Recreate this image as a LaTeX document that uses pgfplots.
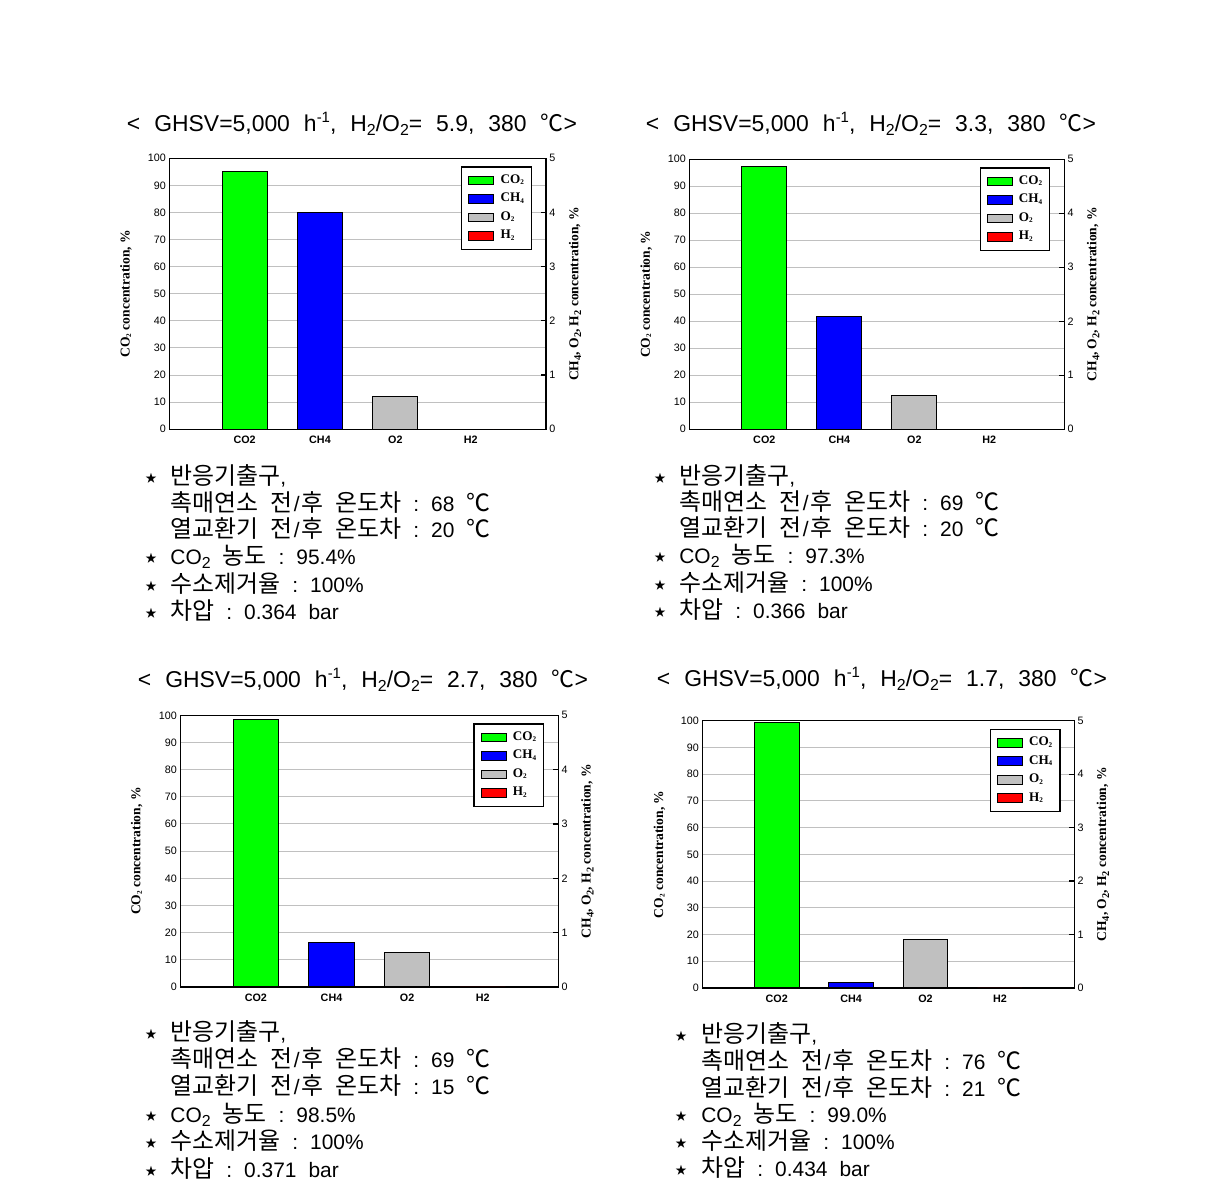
\documentclass[border=0pt]{standalone}
\usepackage{fontspec}
\usepackage{pgfplots}
\pgfplotsset{compat=1.18}
\setmainfont{Liberation Sans}
\newfontfamily\kr{Noto Sans CJK KR}
\newfontfamily\tms{Liberation Serif}
\newfontfamily\dv{DejaVu Sans}

\definecolor{cg}{RGB}{0,255,0}
\definecolor{cb}{RGB}{0,0,255}
\definecolor{cgr}{RGB}{192,192,192}
\definecolor{cr}{RGB}{255,0,0}
\definecolor{gridc}{RGB}{192,192,192}

\newcommand{\lsub}[1]{\raisebox{-0.7bp}{\fontsize{3.6}{4}\selectfont #1}}
\newcommand{\rsub}[1]{\raisebox{-1.4bp}{\fontsize{5.2}{5}\selectfont #1}}
\newcommand{\tsub}[1]{\raisebox{-2bp}{\fontsize{8}{8}\selectfont #1}}
\newcommand{\tsup}[1]{\raisebox{4.5bp}{\fontsize{7.5}{8}\selectfont #1}}
\newcommand{\K}[1]{{\kr\fontsize{12}{14}\selectfont #1}}
\newcommand{\kS}{\hspace{6bp}}
\newcommand{\tS}{\hspace{7bp}}
\newcommand{\JH}{\K{전}\hspace{0.8bp}/\hspace{0.8bp}\K{후}}
\newcommand{\ttl}[1]{<\tS GHSV=5,000\tS h\tsup{-1},\tS H\tsub{2}/O\tsub{2}=\tS #1,\tS 380\tS{\kr ℃}>}
\newcommand{\st}{{\dv\fontsize{14}{14}\selectfont ⋆}}

\pgfplotsset{
  mainax/.style={scale only axis, anchor=south west,
    xmin=0, xmax=5, ymin=0, ymax=100,
    xtick={1,2,3,4}, xticklabels={CO2,CH4,O2,H2},
    ytick={0,10,...,100},
    ymajorgrids, grid style={gridc, line width=0.5bp},
    major tick length=0pt, ytick pos=left, xtick pos=bottom,
    axis line style={line width=0.65bp},
    /pgf/number format/assume math mode=true,
    yticklabel style={font=\fontsize{5.4}{6}\selectfont, inner sep=1.5bp},
    xticklabel style={font=\bfseries\fontsize{5.4}{6}\selectfont},
    ylabel={CO\lsub{2} concentration, \%},
    ylabel style={at={(axis description cs:-0.115,0.5)}, anchor=center,
      font=\tms\bfseries\fontsize{6.8}{8}\selectfont},
    legend style={at={(0.963,0.97)}, anchor=north east, draw=black,
      line width=0.6bp, fill=white,
      font=\tms\bfseries\fontsize{6.6}{7}\selectfont,
      inner xsep=3.2bp, inner ysep=3.2bp, row sep=2.2bp,
      nodes={inner sep=0.6bp}},
    legend cell align=left,
    legend image code/.code={\draw[#1, draw=black, line width=0.5bp] (0bp,-2.2bp) rectangle (12.5bp,2.2bp); \path (15bp,0bp);},
  },
  secax/.style={scale only axis, anchor=south west,
    xmin=0, xmax=5, ymin=0, ymax=5,
    axis x line=none, axis y line*=right,
    ytick={0,1,...,5}, tick align=inside, major tick length=2.5bp,
    axis line style={line width=0.65bp},
    tick style={line width=0.6bp, black},
    /pgf/number format/assume math mode=true,
    yticklabel style={font=\fontsize{5.4}{6}\selectfont, inner sep=1.5bp},
    ylabel={CH\rsub{4}, O\rsub{2}, H\rsub{2} concentration, \%},
    ylabel style={anchor=center, font=\tms\bfseries\fontsize{6.8}{8}\selectfont},
  },
  barp/.style={ybar, bar width=0.6, bar shift=0pt, draw=black, line width=0.5bp},
}

\begin{document}
\begin{tikzpicture}
\path[use as bounding box] (0,0) rectangle (608.5bp,594.5bp);

% ---------------- Panel 1 ----------------
\begin{axis}[mainax, at={(84.65bp,379.85bp)}, width=188.35bp, height=135.5bp]
\addlegendimage{fill=cg}\addlegendentry{CO\lsub{2}}
\addlegendimage{fill=cb}\addlegendentry{CH\lsub{4}}
\addlegendimage{fill=cgr}\addlegendentry{O\lsub{2}}
\addlegendimage{fill=cr}\addlegendentry{H\lsub{2}}
\addplot[barp, fill=cg, forget plot] coordinates {(1,95.2)};
\end{axis}
\begin{axis}[secax, at={(84.65bp,379.85bp)}, width=188.35bp, height=135.5bp,
  ylabel style={at={(axis description cs:1.077,0.5)}}]
\addplot[barp, fill=cb] coordinates {(2,4.00)};
\addplot[barp, fill=cgr] coordinates {(3,0.60)};
\addplot[barp, fill=cr] coordinates {(4,0)};
\end{axis}

% ---------------- Panel 2 ----------------
\begin{axis}[mainax, at={(344.65bp,379.85bp)}, width=187.5bp, height=135bp]
\addlegendimage{fill=cg}\addlegendentry{CO\lsub{2}}
\addlegendimage{fill=cb}\addlegendentry{CH\lsub{4}}
\addlegendimage{fill=cgr}\addlegendentry{O\lsub{2}}
\addlegendimage{fill=cr}\addlegendentry{H\lsub{2}}
\addplot[barp, fill=cg, forget plot] coordinates {(1,97.4)};
\end{axis}
\begin{axis}[secax, at={(344.65bp,379.85bp)}, width=187.5bp, height=135bp,
  ylabel style={at={(axis description cs:1.077,0.5)}}]
\addplot[barp, fill=cb] coordinates {(2,2.09)};
\addplot[barp, fill=cgr] coordinates {(3,0.63)};
\addplot[barp, fill=cr] coordinates {(4,0)};
\end{axis}

% ---------------- Panel 3 ----------------
\begin{axis}[mainax, at={(90.15bp,101bp)}, width=189bp, height=135.85bp]
\addlegendimage{fill=cg}\addlegendentry{CO\lsub{2}}
\addlegendimage{fill=cb}\addlegendentry{CH\lsub{4}}
\addlegendimage{fill=cgr}\addlegendentry{O\lsub{2}}
\addlegendimage{fill=cr}\addlegendentry{H\lsub{2}}
\addplot[barp, fill=cg, forget plot] coordinates {(1,98.5)};
\end{axis}
\begin{axis}[secax, at={(90.15bp,101bp)}, width=189bp, height=135.85bp,
  ylabel style={at={(axis description cs:1.077,0.5)}}]
\addplot[barp, fill=cb] coordinates {(2,0.82)};
\addplot[barp, fill=cgr] coordinates {(3,0.64)};
\addplot[barp, fill=cr] coordinates {(4,0)};
\end{axis}

% ---------------- Panel 4 ----------------
\begin{axis}[mainax, at={(351.15bp,100.5bp)}, width=186bp, height=133.65bp]
\addlegendimage{fill=cg}\addlegendentry{CO\lsub{2}}
\addlegendimage{fill=cb}\addlegendentry{CH\lsub{4}}
\addlegendimage{fill=cgr}\addlegendentry{O\lsub{2}}
\addlegendimage{fill=cr}\addlegendentry{H\lsub{2}}
\addplot[barp, fill=cg, forget plot] coordinates {(1,99.2)};
\end{axis}
\begin{axis}[secax, at={(351.15bp,100.5bp)}, width=186bp, height=133.65bp,
  ylabel style={at={(axis description cs:1.077,0.5)}}]
\addplot[barp, fill=cb] coordinates {(2,0.106)};
\addplot[barp, fill=cgr] coordinates {(3,0.90)};
\addplot[barp, fill=cr] coordinates {(4,0)};
\end{axis}

% ---------------- Texts (pixel coordinates, y downward) ----------------
\begin{scope}[x=0.5bp, y=-0.5bp, shift={(0bp,594.5bp)},
  every node/.style={inner sep=0pt, font=\fontsize{10.5}{12}\selectfont}]
  % titles
  \node[anchor=base, font=\fontsize{11.5}{13}\selectfont] at (352,131.7) {\ttl{5.9}};
  \node[anchor=base, font=\fontsize{11.5}{13}\selectfont] at (871,131.7) {\ttl{3.3}};
  \node[anchor=base, font=\fontsize{11.5}{13}\selectfont] at (363,688) {\ttl{2.7}};
  \node[anchor=base, font=\fontsize{11.5}{13}\selectfont] at (882,687) {\ttl{1.7}};

  % panel 1 block
  \node[anchor=base] at (151,488) {\st};
  \node[anchor=base west] at (170,485) {\K{반응기출구},};
  \node[anchor=base west] at (170,512) {\K{촉매연소}\kS\JH\kS\K{온도차}\kS:\kS 68\kS\K{℃}};
  \node[anchor=base west] at (170,538) {\K{열교환기}\kS\JH\kS\K{온도차}\kS:\kS 20\kS\K{℃}};
  \node[anchor=base] at (151,568) {\st};
  \node[anchor=base west] at (170,565) {CO\tsub{2}\kS\K{농도}\kS:\kS 95.4\%};
  \node[anchor=base] at (151,596) {\st};
  \node[anchor=base west] at (170,593) {\K{수소제거율}\kS:\kS 100\%};
  \node[anchor=base] at (151,623) {\st};
  \node[anchor=base west] at (170,620) {\K{차압}\kS:\kS 0.364\kS bar};

  % panel 2 block
  \node[anchor=base] at (660,488) {\st};
  \node[anchor=base west] at (679,485) {\K{반응기출구},};
  \node[anchor=base west] at (679,511) {\K{촉매연소}\kS\JH\kS\K{온도차}\kS:\kS 69\kS\K{℃}};
  \node[anchor=base west] at (679,537) {\K{열교환기}\kS\JH\kS\K{온도차}\kS:\kS 20\kS\K{℃}};
  \node[anchor=base] at (660,567) {\st};
  \node[anchor=base west] at (679,564) {CO\tsub{2}\kS\K{농도}\kS:\kS 97.3\%};
  \node[anchor=base] at (660,595) {\st};
  \node[anchor=base west] at (679,592) {\K{수소제거율}\kS:\kS 100\%};
  \node[anchor=base] at (660,622) {\st};
  \node[anchor=base west] at (679,619) {\K{차압}\kS:\kS 0.366\kS bar};

  % panel 3 block
  \node[anchor=base] at (151,1044) {\st};
  \node[anchor=base west] at (170,1041) {\K{반응기출구},};
  \node[anchor=base west] at (170,1068) {\K{촉매연소}\kS\JH\kS\K{온도차}\kS:\kS 69\kS\K{℃}};
  \node[anchor=base west] at (170,1095) {\K{열교환기}\kS\JH\kS\K{온도차}\kS:\kS 15\kS\K{℃}};
  \node[anchor=base] at (151,1126) {\st};
  \node[anchor=base west] at (170,1123) {CO\tsub{2}\kS\K{농도}\kS:\kS 98.5\%};
  \node[anchor=base] at (151,1153) {\st};
  \node[anchor=base west] at (170,1150) {\K{수소제거율}\kS:\kS 100\%};
  \node[anchor=base] at (151,1181) {\st};
  \node[anchor=base west] at (170,1178) {\K{차압}\kS:\kS 0.371\kS bar};

  % panel 4 block
  \node[anchor=base] at (681,1046) {\st};
  \node[anchor=base west] at (701,1043) {\K{반응기출구},};
  \node[anchor=base west] at (701,1070) {\K{촉매연소}\kS\JH\kS\K{온도차}\kS:\kS 76\kS\K{℃}};
  \node[anchor=base west] at (701,1097) {\K{열교환기}\kS\JH\kS\K{온도차}\kS:\kS 21\kS\K{℃}};
  \node[anchor=base] at (681,1126) {\st};
  \node[anchor=base west] at (701,1123) {CO\tsub{2}\kS\K{농도}\kS:\kS 99.0\%};
  \node[anchor=base] at (681,1153) {\st};
  \node[anchor=base west] at (701,1150) {\K{수소제거율}\kS:\kS 100\%};
  \node[anchor=base] at (681,1180) {\st};
  \node[anchor=base west] at (701,1177) {\K{차압}\kS:\kS 0.434\kS bar};
\end{scope}
\end{tikzpicture}
\end{document}
